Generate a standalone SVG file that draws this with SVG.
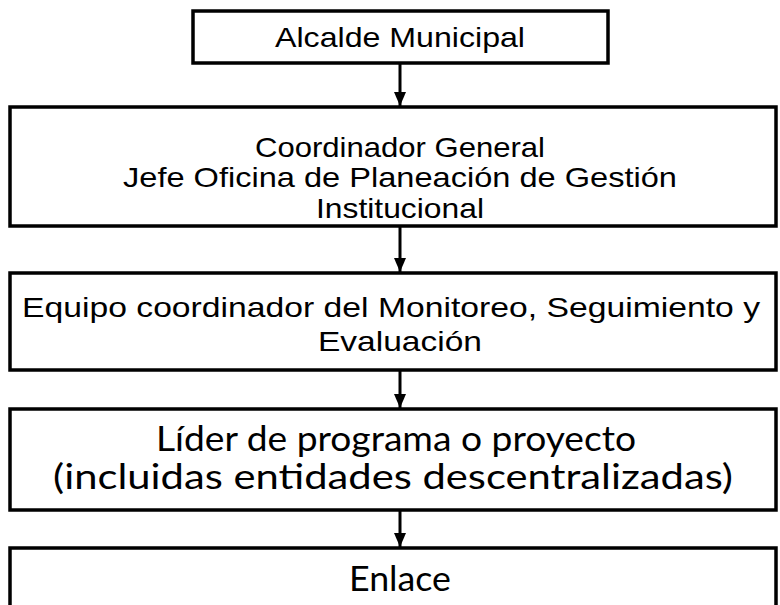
<svg xmlns="http://www.w3.org/2000/svg" width="780" height="605" viewBox="0 0 780 605">
<defs>
<marker id="ah" markerWidth="14" markerHeight="12" refX="14" refY="6" orient="auto" markerUnits="userSpaceOnUse" viewBox="0 0 14 12">
<path d="M0,0 L14,6 L0,12 Z" fill="#000"/>
</marker>
<style>
.box{fill:#fff;stroke:#000;stroke-width:3.5}
.a{font-family:"Liberation Sans",Arial,sans-serif;font-size:28px;fill:#000;text-anchor:middle}
.c{font-family:Lato,"Liberation Sans",sans-serif;font-size:34px;fill:#000;text-anchor:middle}
.ln{stroke:#000;stroke-width:3;fill:none}
</style>
</defs>
<rect width="780" height="605" fill="#fff"/>
<g id="connectors">
<line class="ln" x1="400" y1="63" x2="400" y2="106" marker-end="url(#ah)"/>
<line class="ln" x1="400" y1="226" x2="400" y2="272" marker-end="url(#ah)"/>
<line class="ln" x1="400" y1="370" x2="400" y2="408" marker-end="url(#ah)"/>
<line class="ln" x1="400" y1="510" x2="400" y2="547" marker-end="url(#ah)"/>
</g>
<g id="n1">
<rect class="box" x="193" y="11" width="415" height="52"/>
<text class="a" x="400" y="47" textLength="250" lengthAdjust="spacingAndGlyphs">Alcalde Municipal</text>
</g>
<g id="n2">
<rect class="box" x="10" y="107" width="766" height="119"/>
<text class="a" x="400" y="157" textLength="290" lengthAdjust="spacingAndGlyphs">Coordinador General</text>
<text class="a" x="400" y="187" textLength="554" lengthAdjust="spacingAndGlyphs">Jefe Oficina de Planeación de Gestión</text>
<text class="a" x="400" y="218" textLength="168" lengthAdjust="spacingAndGlyphs">Institucional</text>
</g>
<g id="n3">
<rect class="box" x="10" y="273" width="766" height="97"/>
<text class="a" x="391" y="317" textLength="738" lengthAdjust="spacingAndGlyphs">Equipo  coordinador del Monitoreo, Seguimiento y</text>
<text class="a" x="400" y="351" textLength="164" lengthAdjust="spacingAndGlyphs">Evaluación</text>
</g>
<g id="n4">
<rect class="box" x="10" y="409" width="766" height="101"/>
<text class="c" x="396" y="451" textLength="480" lengthAdjust="spacingAndGlyphs">Líder de programa o proyecto</text>
<text class="c" x="393" y="489" textLength="680" lengthAdjust="spacingAndGlyphs">(incluidas entidades descentralizadas)</text>
</g>
<g id="n5">
<rect class="box" x="10" y="548" width="766" height="70"/>
<text class="c" x="400" y="591" textLength="102" lengthAdjust="spacingAndGlyphs">Enlace</text>
</g>
</svg>
